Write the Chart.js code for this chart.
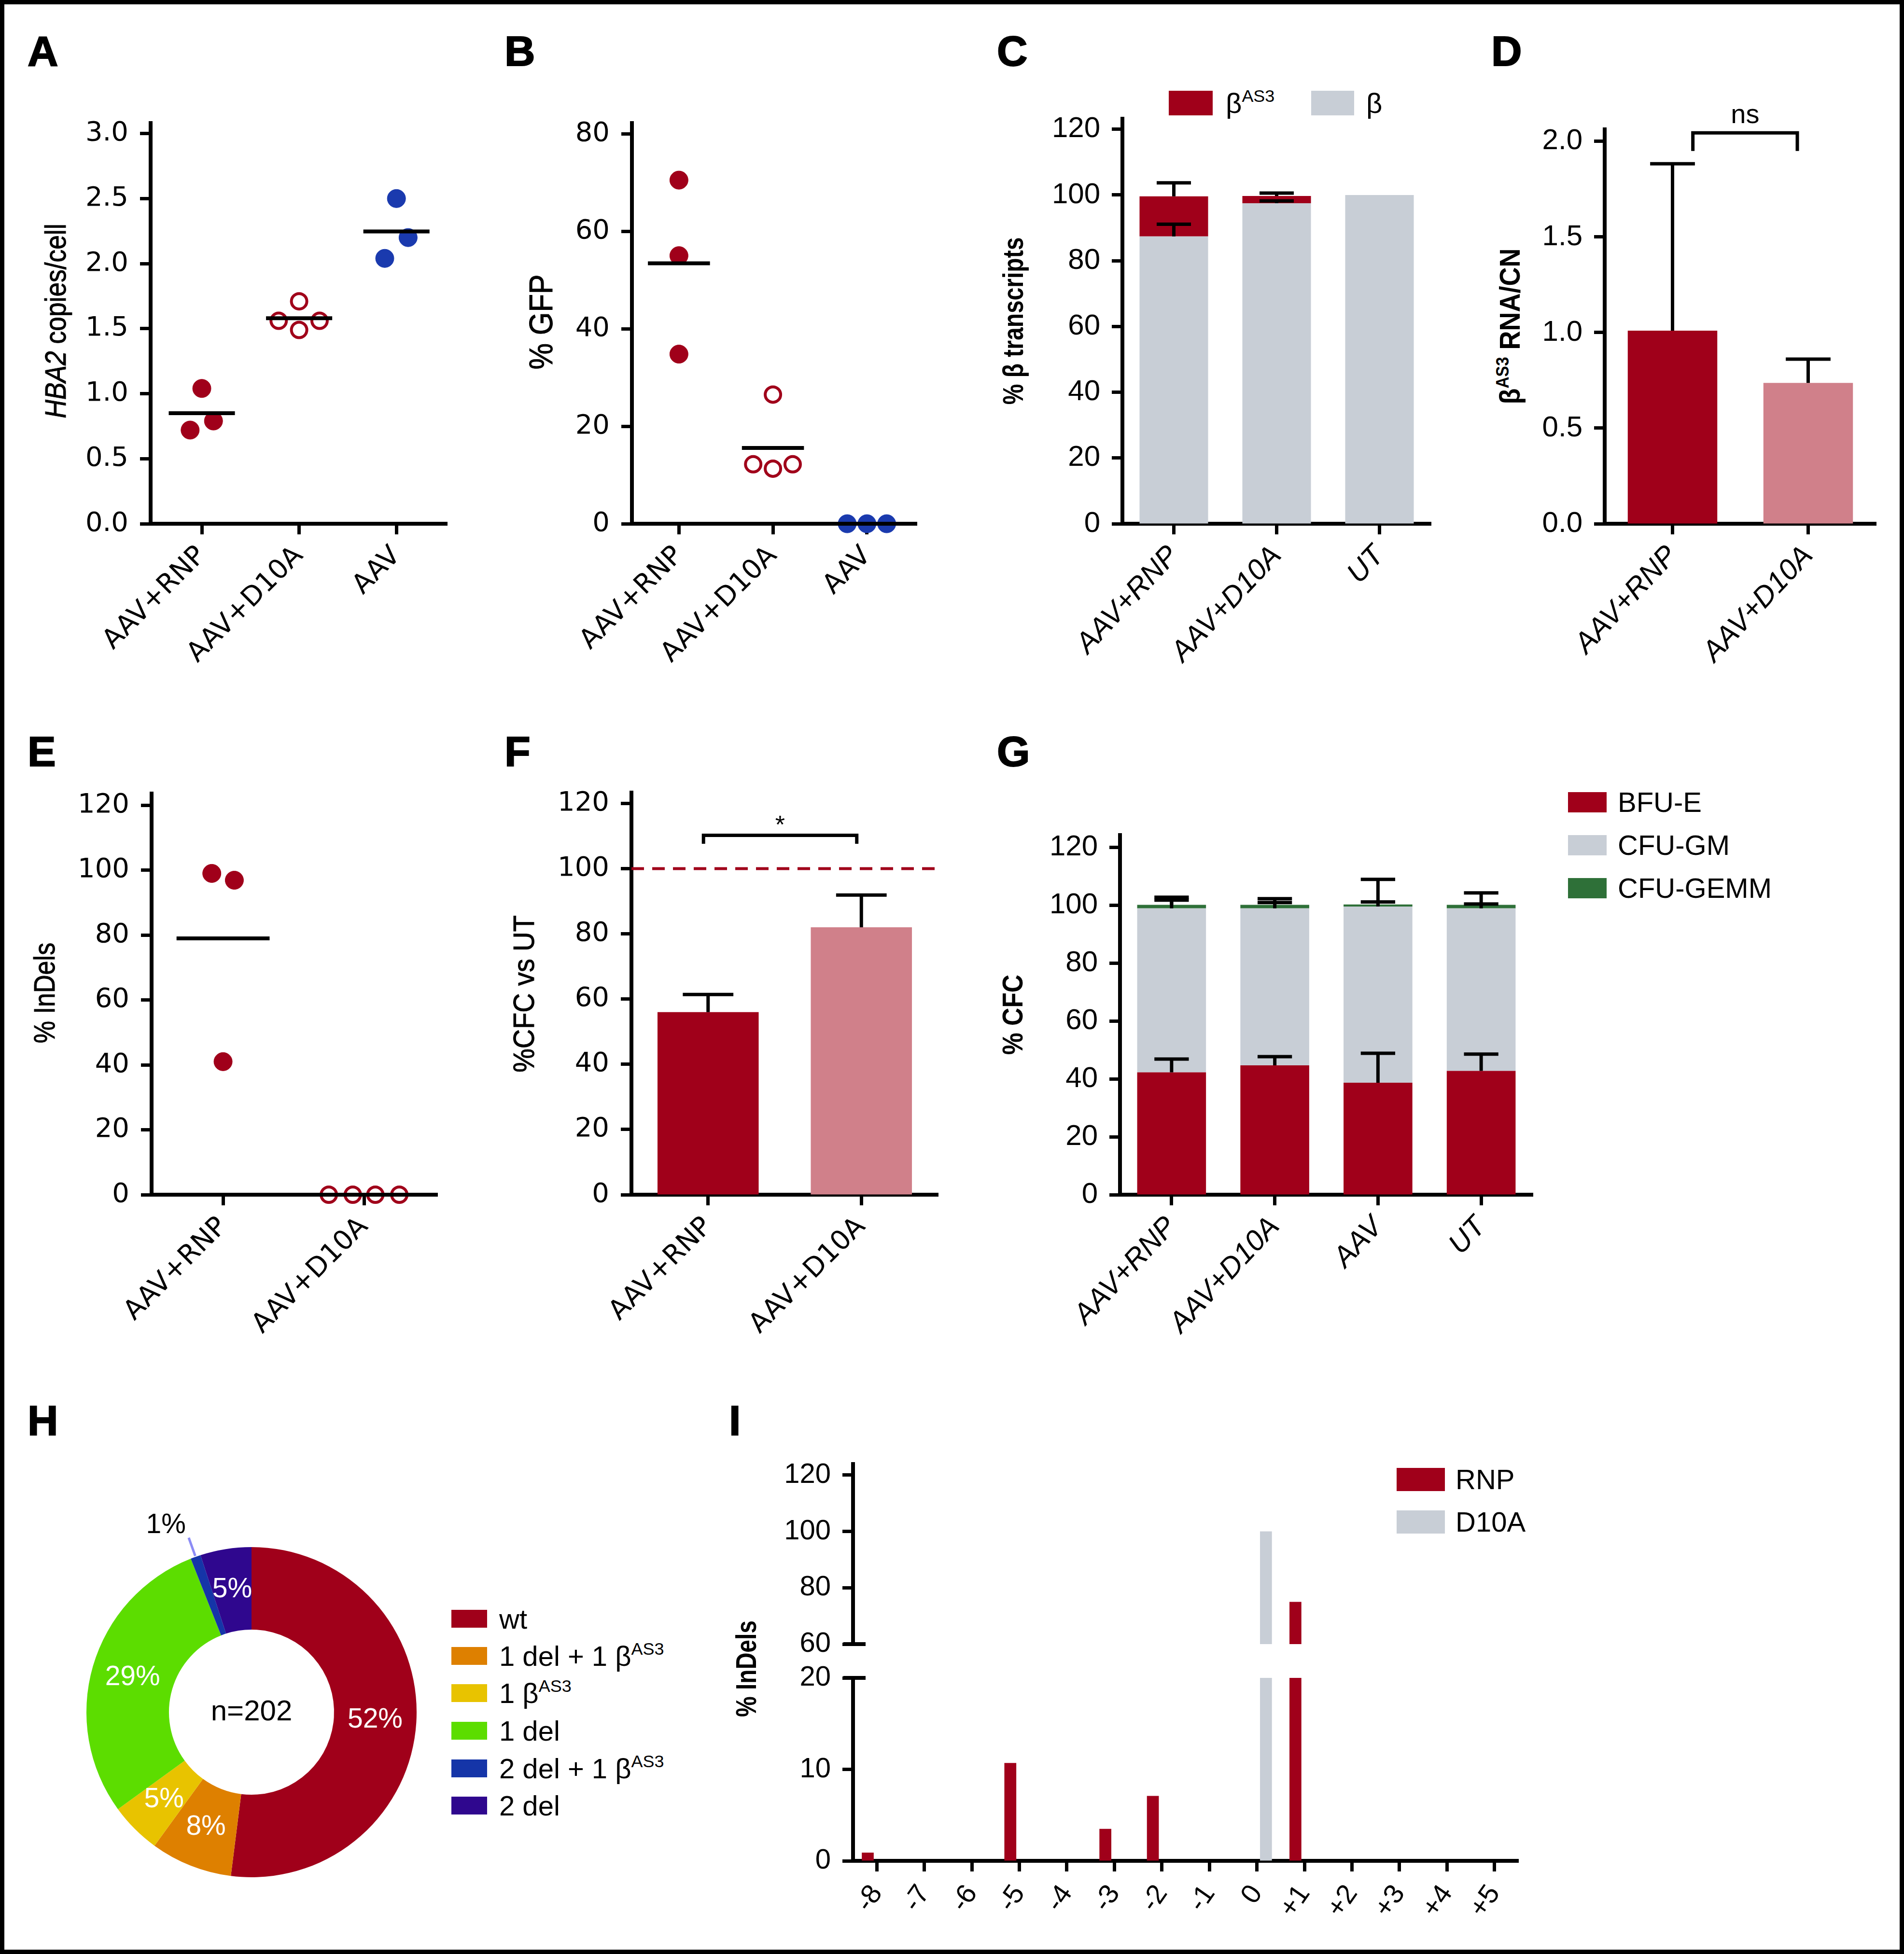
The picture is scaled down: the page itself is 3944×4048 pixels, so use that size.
<!DOCTYPE html>
<html>
<head>
<meta charset="utf-8">
<title>HBA2 editing – panels A to I</title>
<script src="https://cdn.jsdelivr.net/npm/chart.js"></script>
<style>
  body { margin: 0; background: #fff; }
  #fig { position: relative; width: 3944px; height: 4048px; overflow: hidden; background: #fff; font-family: 'Liberation Sans', Arial, sans-serif; color: #000; }
  #frame { position: absolute; left: 0; top: 0; width: 3944px; height: 4048px; box-sizing: border-box; border: 9px solid #000; pointer-events: none; z-index: 10; }
  .chartbox { position: absolute; }
  .letter { position: absolute; font-weight: bold; font-size: 88px; line-height: 1; -webkit-text-stroke: 2px #000; }
  .ytitle { position: absolute; white-space: nowrap; transform: translate(-50%, -50%) rotate(-90deg) scaleX(var(--sx, 0.85)); font-family: 'Liberation Sans', sans-serif; font-size: 62px; line-height: 1; -webkit-text-stroke: 1px #000; }
  .ytitle.b { font-weight: bold; font-size: 60px; -webkit-text-stroke: 0; }
  .sup { font-size: 0.62em; position: relative; top: -0.62em; }
  .leg { position: absolute; display: flex; align-items: center; white-space: nowrap; font-size: 58px; line-height: 1; }
  .sw { display: inline-block; flex: none; }
</style>
</head>
<body>
<div id="fig">
  <div class="letter" style="left:57px;top:62px">A</div>
  <div class="letter" style="left:1045px;top:62px">B</div>
  <div class="letter" style="left:2065px;top:62px">C</div>
  <div class="letter" style="left:3089px;top:62px">D</div>
  <div class="letter" style="left:57px;top:1513px">E</div>
  <div class="letter" style="left:1045px;top:1513px">F</div>
  <div class="letter" style="left:2065px;top:1513px">G</div>
  <div class="letter" style="left:57px;top:2899px">H</div>
  <div class="letter" style="left:1510px;top:2899px">I</div>

  <div class="ytitle" style="left:115px;top:665px;--sx:0.86"><i>HBA2</i> copies/cell</div>
  <div class="ytitle" style="left:1120px;top:667px;--sx:0.9;font-size:68px">% GFP</div>
  <div class="ytitle b" style="left:2099px;top:665px;--sx:0.8">% β transcripts</div>
  <div class="ytitle b" style="left:3128px;top:676px;--sx:0.9">β<span class="sup">AS3</span> RNA/CN</div>
  <div class="ytitle" style="left:92px;top:2057px;--sx:0.84">% InDels</div>
  <div class="ytitle" style="left:1085px;top:2059px;--sx:0.9">%CFC vs UT</div>
  <div class="ytitle b" style="left:2098px;top:2102px;--sx:0.86">% CFC</div>
  <div class="ytitle b" style="left:1546px;top:3457px;--sx:0.8">% InDels</div>

  <div class="leg" style="left:2421px;top:188px;height:51px">
    <span class="sw" style="width:91px;height:51px;background:#A0001A"></span>
    <span style="margin-left:27px">β<span class="sup">AS3</span></span>
  </div>
  <div class="leg" style="left:2716px;top:188px;height:51px">
    <span class="sw" style="width:89px;height:51px;background:#C8CED6"></span>
    <span style="margin-left:25px">β</span>
  </div>

  <div class="leg" style="left:3248px;top:1641px;height:42px"><span class="sw" style="width:80px;height:42px;background:#A0001A"></span><span style="margin-left:23px">BFU-E</span></div>
  <div class="leg" style="left:3248px;top:1730px;height:42px"><span class="sw" style="width:80px;height:42px;background:#C8CED6"></span><span style="margin-left:23px">CFU-GM</span></div>
  <div class="leg" style="left:3248px;top:1819px;height:42px"><span class="sw" style="width:80px;height:42px;background:#2E7038"></span><span style="margin-left:23px">CFU-GEMM</span></div>

  <div id="hLegend"></div>

  <div class="leg" style="left:2893px;top:3041px;height:48px"><span class="sw" style="width:100px;height:48px;background:#A0001A"></span><span style="margin-left:22px">RNP</span></div>
  <div class="leg" style="left:2893px;top:3129px;height:48px"><span class="sw" style="width:100px;height:48px;background:#C8CED6"></span><span style="margin-left:22px">D10A</span></div>

  <div id="frame"></div>
</div>

<script>
// ---------- data ----------
const groups3 = ['AAV+RNP', 'AAV+D10A', 'AAV'];
const groups2 = ['AAV+RNP', 'AAV+D10A'];

// A: HBA2 copies per cell
const copiesRNP = [1.04, 0.72, 0.79];
const copiesD10A = [1.71, 1.56, 1.49, 1.56];
const copiesAAV = [2.50, 2.20, 2.04];
const copiesJitter = [[0, -0.12, 0.12], [0, -0.21, 0, 0.21], [0, 0.12, -0.12]];

// B: % GFP
const gfpRNP = [70.5, 55.0, 34.8];
const gfpD10A = [26.5, 12.2, 11.3, 12.2];
const gfpAAV = [0, 0, 0];
const gfpJitter = [[0, 0, 0], [0, -0.21, 0, 0.21], [-0.21, 0, 0.21]];

// C: % beta transcripts
const transcriptCats = ['AAV+RNP', 'AAV+D10A', 'UT'];
const betaWT = [87.4, 97.5, 100];
const betaWTErr = [3.7, 0.7, 0];
const betaAS3 = [12.2, 2.2, 0];
const betaAS3Err = [4.1, 0.9, 0];

// D: betaAS3 RNA / copy number
const rnaPerCN = [1.01, 0.737];
const rnaPerCNErr = [0.873, 0.124];

// E: % InDels
const indelRNP = [99.0, 96.9, 41.0];
const indelD10A = [0, 0, 0, 0];
const indelJitter = [[-0.08, 0.08, 0], [-0.25, -0.08, 0.08, 0.25]];

// F: % CFC vs UT
const cfcVsUT = [56.0, 82.0];
const cfcVsUTErr = [5.4, 9.9];

// G: % CFC composition
const cfcCats = ['AAV+RNP', 'AAV+D10A', 'AAV', 'UT'];
const bfuE = [42.3, 44.7, 38.7, 42.8];
const bfuEErr = [4.6, 3.0, 10.2, 5.8];
const cfuGM = [56.7, 54.3, 60.9, 56.2];
const cfuGMErr = [2.8, 2.0, 1.6, 1.5];
const cfuGEMM = [1.2, 1.2, 0.7, 1.2];
const cfuGEMMErr = [2.6, 2.1, 8.7, 4.1];

// H: allele composition (n=202)
const alleleLabels = ['wt', '1 del + 1 β<span class="sup">AS3</span>', '1 β<span class="sup">AS3</span>', '1 del', '2 del + 1 β<span class="sup">AS3</span>', '2 del'];
const allelePct = [52, 8, 5, 29, 1, 5];
const alleleColors = ['#A0001A', '#DE8000', '#E8C300', '#5CDD00', '#1535A8', '#2F078E'];

// I: InDel size distribution
const indelSizes = ['-8', '-7', '-6', '-5', '-4', '-3', '-2', '-1', '0', '+1', '+2', '+3', '+4', '+5'];
const sizeRNP = [0.9, 0, 0, 10.7, 0, 3.5, 7.1, 0, 0, 75, 0, 0, 0, 0];
const sizeD10A = [0, 0, 0, 0, 0, 0, 0, 0, 100, 0, 0, 0, 0, 0];

// ---------- colours / fonts ----------
const RED = '#A0001A', PINK = '#D0808A', GREY = '#C8CED6', BLUE = '#1A3AAE', GREEN = '#2E7038';
const wideFont = { family: "'DejaVu Sans', sans-serif", size: 56 };
const helvFont = { family: "'Liberation Sans', sans-serif", size: 60 };
const helvItal = { family: "'Liberation Sans', sans-serif", size: 60, style: 'italic' };

Chart.defaults.font.family = "'Liberation Sans', Arial, sans-serif";
Chart.defaults.color = '#000';
Chart.defaults.animation = false;
Chart.defaults.responsive = true;
Chart.defaults.maintainAspectRatio = false;
Chart.defaults.events = [];
Chart.defaults.plugins.legend.display = false;
Chart.defaults.plugins.tooltip.enabled = false;

// ---------- plugins ----------
const errorBars = {
  id: 'errorBars',
  afterDatasetsDraw(chart, args, o) {
    if (!o.sets) return;
    const ctx = chart.ctx, y = chart.scales.y;
    ctx.save();
    ctx.strokeStyle = '#000';
    ctx.lineWidth = 7;
    o.sets.forEach(s => {
      chart.getDatasetMeta(s.dataset).data.forEach((bar, i) => {
        const e = s.err[i];
        if (!e) return;
        const yE = y.getPixelForValue(y.getValueForPixel(bar.y) + e);
        const half = bar.width / 4;
        ctx.beginPath();
        ctx.moveTo(bar.x, bar.y);
        ctx.lineTo(bar.x, yE);
        ctx.moveTo(bar.x - half, yE);
        ctx.lineTo(bar.x + half, yE);
        ctx.stroke();
      });
    });
    ctx.restore();
  }
};

const bracket = {
  id: 'bracket',
  afterDatasetsDraw(chart, args, o) {
    if (!o.text) return;
    const ctx = chart.ctx, x = chart.scales.x, y = chart.scales.y;
    const x1 = x.getPixelForValue(o.from), x2 = x.getPixelForValue(o.to);
    const yb = y.getPixelForValue(o.y), yl = y.getPixelForValue(o.leg);
    ctx.save();
    ctx.strokeStyle = '#000';
    ctx.lineWidth = 7;
    ctx.beginPath();
    ctx.moveTo(x1, yl); ctx.lineTo(x1, yb); ctx.lineTo(x2, yb); ctx.lineTo(x2, yl);
    ctx.stroke();
    ctx.font = o.font;
    ctx.fillStyle = '#000';
    ctx.textAlign = 'center';
    ctx.textBaseline = 'alphabetic';
    ctx.fillText(o.text, (x1 + x2) / 2, y.getPixelForValue(o.textY));
    ctx.restore();
  }
};

const refLine = {
  id: 'refLine',
  beforeDatasetsDraw(chart, args, o) {
    if (o.value === undefined) return;
    const ctx = chart.ctx, a = chart.chartArea;
    const py = chart.scales.y.getPixelForValue(o.value);
    ctx.save();
    ctx.strokeStyle = o.color;
    ctx.lineWidth = 6;
    ctx.setLineDash([26, 17]);
    ctx.beginPath();
    ctx.moveTo(a.left, py);
    ctx.lineTo(a.right, py);
    ctx.stroke();
    ctx.restore();
  }
};

const axisStub = {
  id: 'axisStub',
  afterDraw(chart, args, o) {
    if (o.value === undefined) return;
    const ctx = chart.ctx, a = chart.chartArea;
    const py = chart.scales.y.getPixelForValue(o.value);
    ctx.save();
    ctx.strokeStyle = '#000';
    ctx.lineWidth = 8;
    ctx.beginPath();
    ctx.moveTo(a.left - 20, py);
    ctx.lineTo(a.left + 26, py);
    ctx.stroke();
    ctx.restore();
  }
};

const sliceLabels = {
  id: 'sliceLabels',
  afterDatasetsDraw(chart, args, o) {
    if (!o.center) return;
    const ctx = chart.ctx;
    const vals = chart.data.datasets[0].data;
    const total = vals.reduce((s, v) => s + v, 0);
    const arcs = chart.getDatasetMeta(0).data;
    ctx.save();
    ctx.font = "57px 'Liberation Sans', sans-serif";
    arcs.forEach((arc, i) => {
      const p = arc.getProps(['x', 'y', 'startAngle', 'endAngle', 'innerRadius', 'outerRadius'], true);
      const mid = (p.startAngle + p.endAngle) / 2;
      const txt = Math.round(vals[i] / total * 100) + '%';
      if (vals[i] / total < 0.03) {
        const r1 = p.outerRadius + 2, r2 = p.outerRadius + 42;
        const ex = p.x + Math.cos(mid) * r2, ey = p.y + Math.sin(mid) * r2;
        ctx.strokeStyle = '#8C8CF5';
        ctx.lineWidth = 5;
        ctx.beginPath();
        ctx.moveTo(p.x + Math.cos(mid) * r1, p.y + Math.sin(mid) * r1);
        ctx.lineTo(ex, ey);
        ctx.stroke();
        ctx.fillStyle = '#000';
        ctx.textAlign = 'right';
        ctx.textBaseline = 'alphabetic';
        ctx.fillText(txt, ex - 6, ey - 10);
      } else {
        const r = (p.innerRadius + p.outerRadius) / 2;
        ctx.fillStyle = '#fff';
        ctx.textAlign = 'center';
        ctx.textBaseline = 'middle';
        ctx.fillText(txt, p.x + Math.cos(mid) * r, p.y + Math.sin(mid) * r);
      }
    });
    ctx.fillStyle = '#000';
    ctx.font = "60px 'Liberation Sans', sans-serif";
    ctx.textAlign = 'center';
    ctx.textBaseline = 'middle';
    ctx.fillText(o.center, arcs[0].x, arcs[0].y);
    ctx.restore();
  }
};

Chart.register(errorBars, bracket, refLine, axisStub, sliceLabels);

// ---------- helpers ----------
// places a canvas so that the chart area lands on a.l..a.r / a.t..a.b
function panel(a, cfg) {
  const padT = 75, padR = 45, padB = a.xH ? 10 : 75;
  const div = document.createElement('div');
  div.className = 'chartbox';
  div.style.left = (a.l - a.yW) + 'px';
  div.style.top = (a.t - padT) + 'px';
  div.style.width = (a.r - a.l + a.yW + padR) + 'px';
  div.style.height = (a.b - a.t + (a.xH || 0) + padT + padB) + 'px';
  const cv = document.createElement('canvas');
  div.appendChild(cv);
  document.getElementById('fig').appendChild(div);
  cfg.options = cfg.options || {};
  cfg.options.layout = { padding: { top: padT, right: padR, bottom: padB, left: 0 } };
  return new Chart(cv, cfg);
}

const axisBorder = { display: true, color: '#000', width: 8 };
const tickGrid = { drawOnChartArea: false, drawTicks: true, tickLength: 22, tickWidth: 7, tickColor: '#000', offset: false };

function yAxis(min, max, step, font, w, fmt) {
  return {
    position: 'left', min, max,
    border: axisBorder, grid: tickGrid,
    ticks: { stepSize: step, includeBounds: false, font, color: '#000', padding: 24, callback: fmt || (v => v) },
    afterFit: s => { s.width = w; }
  };
}

function xCat(font, rot, pad, h) {
  return {
    type: 'category', offset: true,
    border: axisBorder, grid: tickGrid,
    ticks: { font, color: '#000', minRotation: rot, maxRotation: rot, padding: pad, autoSkip: false },
    afterFit: s => { s.height = h; }
  };
}

function xLin(labels, min, max, h) {
  return {
    type: 'linear', min, max,
    border: axisBorder, grid: tickGrid,
    ticks: { font: wideFont, color: '#000', minRotation: 45, maxRotation: 45, padding: 12, autoSkip: false,
             callback: v => labels[Math.round(v) - 1] },
    afterBuildTicks: s => { s.ticks = labels.map((_, i) => ({ value: i + 1 })); },
    afterFit: s => { s.height = h; }
  };
}

function dots(groupVals, jitter) {
  return groupVals.map((vals, g) => vals.map((v, k) => ({ x: g + 1 + jitter[g][k], y: v })));
}

function meanSegments(groupVals, half) {
  const pts = [];
  groupVals.forEach((vals, g) => {
    const m = vals.reduce((s, v) => s + v, 0) / vals.length;
    pts.push({ x: g + 1 - half, y: m }, { x: g + 1 + half, y: m }, { x: g + 1.5, y: null });
  });
  return pts;
}

function meanDataset(groupVals, half) {
  return { type: 'line', data: meanSegments(groupVals, half), borderColor: '#000', borderWidth: 8,
           pointRadius: 0, spanGaps: false, clip: false };
}

const filled = c => ({ backgroundColor: c, borderColor: c, borderWidth: 1, pointRadius: 19, clip: false });
const hollow = c => ({ backgroundColor: '#fff', borderColor: c, borderWidth: 6, pointRadius: 16, clip: false });

// ---------- A ----------
(function () {
  const vals = [copiesRNP, copiesD10A, copiesAAV];
  const d = dots(vals, copiesJitter);
  panel({ l: 312, t: 255, r: 926, b: 1085, yW: 150, xH: 330 }, {
    type: 'scatter',
    data: { datasets: [
      meanDataset(vals, 0.34),
      Object.assign({ data: d[0] }, filled(RED)),
      Object.assign({ data: d[1] }, hollow(RED)),
      Object.assign({ data: d[2] }, filled(BLUE))
    ] },
    options: { scales: {
      x: xLin(groups3, 0.474, 3.52, 330),
      y: yAxis(0, 3.08, 0.5, wideFont, 150, v => v.toFixed(1))
    } }
  });
})();

// ---------- B ----------
(function () {
  const vals = [gfpRNP, gfpD10A, gfpAAV];
  const d = dots(vals, gfpJitter);
  panel({ l: 1309, t: 255, r: 1899, b: 1085, yW: 150, xH: 330 }, {
    type: 'scatter',
    data: { datasets: [
      meanDataset(vals, 0.33),
      Object.assign({ data: d[0] }, filled(RED)),
      Object.assign({ data: d[1] }, hollow(RED)),
      Object.assign({ data: d[2] }, filled(BLUE))
    ] },
    options: { scales: {
      x: xLin(groups3, 0.5, 3.53, 330),
      y: yAxis(0, 82.2, 20, wideFont, 150)
    } }
  });
})();

// ---------- C ----------
panel({ l: 2325, t: 246, r: 2964, b: 1085, yW: 170, xH: 330 }, {
  type: 'bar',
  data: { labels: transcriptCats, datasets: [
    { data: betaWT, backgroundColor: GREY },
    { data: betaAS3, backgroundColor: RED }
  ] },
  options: {
    datasets: { bar: { categoryPercentage: 1, barPercentage: 0.667 } },
    scales: {
      x: Object.assign(xCat(helvItal, 47, 10, 330), { stacked: true }),
      y: Object.assign(yAxis(0, 123.2, 20, helvFont, 170), { stacked: true })
    },
    plugins: { errorBars: { sets: [{ dataset: 0, err: betaWTErr }, { dataset: 1, err: betaAS3Err }] } }
  }
});

// ---------- D ----------
panel({ l: 3324, t: 268, r: 3886, b: 1085, yW: 170, xH: 330 }, {
  type: 'bar',
  data: { labels: groups2, datasets: [{ data: rnaPerCN, backgroundColor: [RED, PINK] }] },
  options: {
    datasets: { bar: { categoryPercentage: 1, barPercentage: 0.66 } },
    scales: {
      x: xCat(helvItal, 47, 10, 330),
      y: yAxis(0, 2.063, 0.5, helvFont, 170, v => v.toFixed(1))
    },
    plugins: {
      errorBars: { sets: [{ dataset: 0, err: rnaPerCNErr }] },
      bracket: { from: 0.15, to: 0.92, y: 2.045, leg: 1.95, text: 'ns', textY: 2.095,
                 font: "56px 'Liberation Sans', sans-serif" }
    }
  }
});

// ---------- E ----------
(function () {
  const vals = [indelRNP, indelD10A];
  const d = dots(vals, indelJitter);
  panel({ l: 314, t: 1644, r: 906, b: 2475, yW: 150, xH: 330 }, {
    type: 'scatter',
    data: { datasets: [
      meanDataset(vals, 0.33),
      Object.assign({ data: d[0] }, filled(RED)),
      Object.assign({ data: d[1] }, hollow(RED))
    ] },
    options: { scales: {
      x: xLin(groups2, 0.493, 2.52, 330),
      y: yAxis(0, 123.6, 20, wideFont, 150)
    } }
  });
})();

// ---------- F ----------
panel({ l: 1308, t: 1642, r: 1943, b: 2475, yW: 160, xH: 330 }, {
  type: 'bar',
  data: { labels: groups2, datasets: [{ data: cfcVsUT, backgroundColor: [RED, PINK] }] },
  options: {
    datasets: { bar: { categoryPercentage: 1, barPercentage: 0.66 } },
    scales: {
      x: xCat(wideFont, 45, 12, 330),
      y: yAxis(0, 123.3, 20, wideFont, 160)
    },
    plugins: {
      errorBars: { sets: [{ dataset: 0, err: cfcVsUTErr }] },
      refLine: { value: 100, color: RED },
      bracket: { from: -0.03, to: 0.97, y: 110.2, leg: 107.6, text: '*', textY: 110.8,
                 font: "52px 'Liberation Sans', sans-serif" }
    }
  }
});

// ---------- G ----------
panel({ l: 2320, t: 1730, r: 3175, b: 2475, yW: 170, xH: 330 }, {
  type: 'bar',
  data: { labels: cfcCats, datasets: [
    { data: bfuE, backgroundColor: RED },
    { data: cfuGM, backgroundColor: GREY },
    { data: cfuGEMM, backgroundColor: GREEN }
  ] },
  options: {
    datasets: { bar: { categoryPercentage: 1, barPercentage: 0.667 } },
    scales: {
      x: Object.assign(xCat(helvItal, 47, 10, 330), { stacked: true }),
      y: Object.assign(yAxis(0, 124.3, 20, helvFont, 170), { stacked: true })
    },
    plugins: { errorBars: { sets: [
      { dataset: 0, err: bfuEErr }, { dataset: 1, err: cfuGMErr }, { dataset: 2, err: cfuGEMMErr }
    ] } }
  }
});

// ---------- H ----------
(function () {
  const pad = 110, rOut = 342;
  const div = document.createElement('div');
  div.className = 'chartbox';
  div.style.left = (521 - rOut - pad) + 'px';
  div.style.top = (3547 - rOut - pad) + 'px';
  div.style.width = (2 * (rOut + pad)) + 'px';
  div.style.height = (2 * (rOut + pad)) + 'px';
  const cv = document.createElement('canvas');
  div.appendChild(cv);
  document.getElementById('fig').appendChild(div);
  new Chart(cv, {
    type: 'doughnut',
    data: { labels: alleleLabels, datasets: [{ data: allelePct, backgroundColor: alleleColors, borderWidth: 0 }] },
    options: { cutout: '50%', layout: { padding: pad }, plugins: { sliceLabels: { center: 'n=202' } } }
  });
  const leg = document.getElementById('hLegend');
  const rowsY = [3354, 3431, 3508, 3586, 3664, 3741];
  alleleLabels.forEach((lab, i) => {
    const row = document.createElement('div');
    row.className = 'leg';
    row.style.left = '935px';
    row.style.top = (rowsY[i] - 19) + 'px';
    row.style.height = '37px';
    row.innerHTML = '<span class="sw" style="width:74px;height:37px;background:' + alleleColors[i] + '"></span>' +
      '<span style="margin-left:25px">' + lab + '</span>';
    leg.appendChild(row);
  });
})();

// ---------- I (broken y axis: two stacked charts) ----------
const iFont = { family: "'Liberation Sans', sans-serif", size: 58 };
const iBars = { categoryPercentage: 0.76, barPercentage: 0.66 };
panel({ l: 1767, t: 3033, r: 3145, b: 3406, yW: 160, xH: 0 }, {
  type: 'bar',
  data: { labels: indelSizes, datasets: [
    { data: sizeRNP.map(v => v > 60 ? v : null), backgroundColor: RED },
    { data: sizeD10A.map(v => v > 60 ? v : null), backgroundColor: GREY }
  ] },
  options: {
    datasets: { bar: iBars },
    scales: { x: { display: false, offset: true }, y: yAxis(60, 123.9, 20, iFont, 160) },
    plugins: { axisStub: { value: 60 } }
  }
});
panel({ l: 1767, t: 3476, r: 3145, b: 3855, yW: 160, xH: 160 }, {
  type: 'bar',
  data: { labels: indelSizes, datasets: [
    { data: sizeRNP.map(v => Math.min(v, 20)), backgroundColor: RED },
    { data: sizeD10A.map(v => Math.min(v, 20)), backgroundColor: GREY }
  ] },
  options: {
    datasets: { bar: iBars },
    scales: {
      x: xCat({ family: "'Liberation Sans', sans-serif", size: 57 }, 55, 16, 160),
      y: yAxis(0, 20, 10, iFont, 160)
    },
    plugins: { axisStub: { value: 20 } }
  }
});
</script>
</body>
</html>
